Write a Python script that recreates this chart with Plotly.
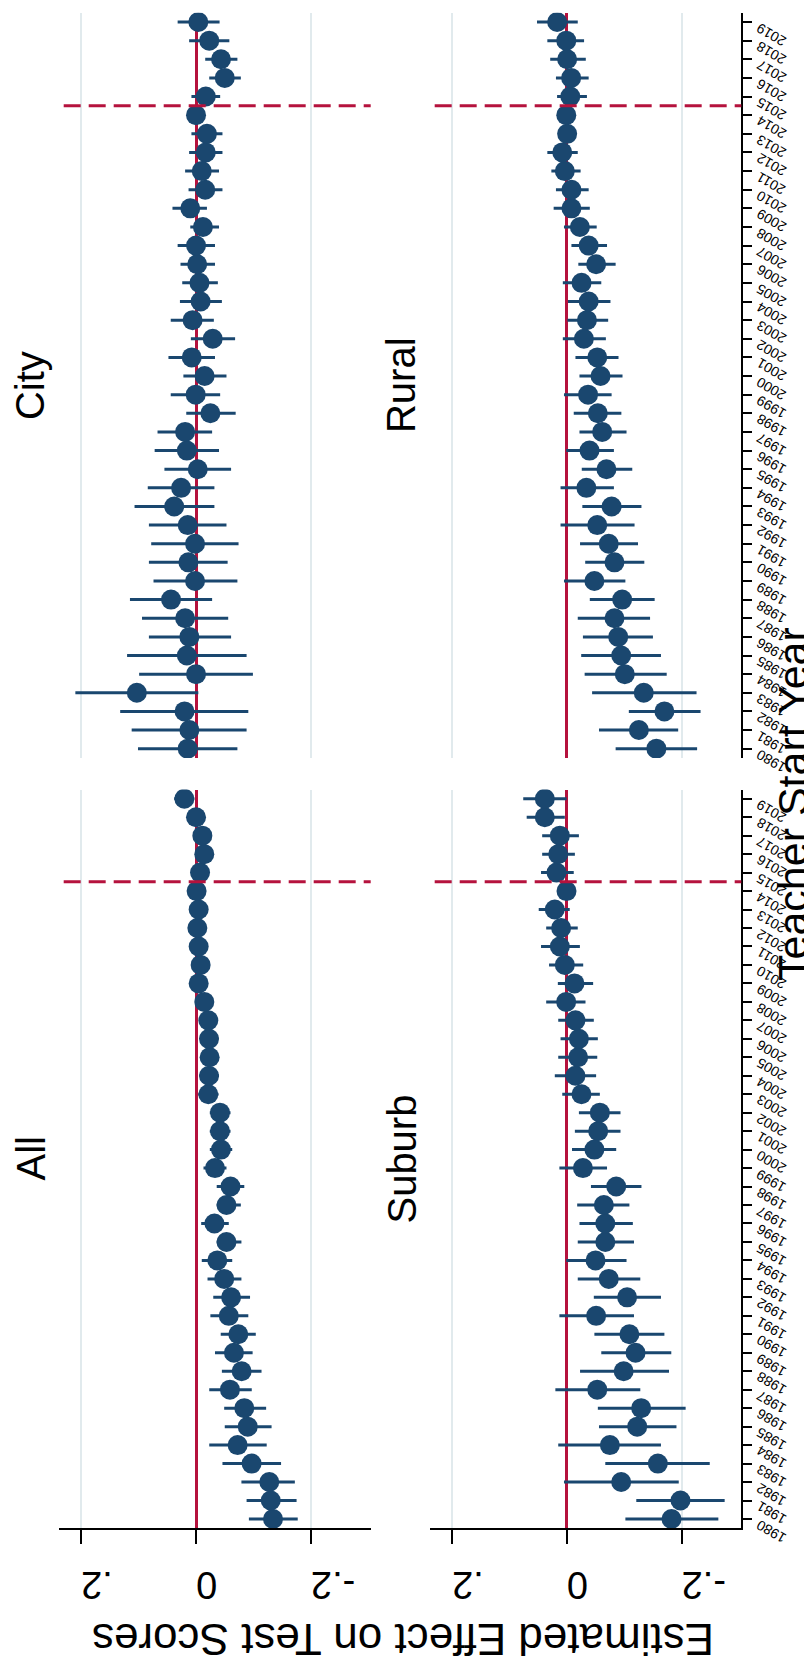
import plotly.graph_objects as go

# ---------------- data ----------------
years = list(range(1980, 2020))
year_labels = [str(y) for y in years]
effect_ticks = [-0.2, 0.0, 0.2]
effect_labels = ["-.2", "0", ".2"]
policy_year = 2014.5
panel_titles = ["City", "Rural", "All", "Suburb"]

city_est = [0.0145, 0.0116, 0.020, 0.103, 0.0, 0.016, 0.0116, 0.019, 0.0435, 0.0017,
            0.0133, 0.0017, 0.0145, 0.038, 0.026, -0.003, 0.016, 0.019, -0.025, 0.0006,
            -0.015, 0.0075, -0.029, 0.006, -0.008, -0.006, -0.002, 0.0, -0.012, 0.010,
            -0.016, -0.010, -0.017, -0.019, 0.0, -0.017, -0.050, -0.0435, -0.023, -0.004]
city_lo = [-0.072, -0.088, -0.091, -0.004, -0.099, -0.088, -0.061, -0.056, -0.028, -0.072,
           -0.055, -0.074, -0.053, -0.032, -0.032, -0.061, -0.040, -0.028, -0.069, -0.042,
           -0.053, -0.033, -0.068, -0.031, -0.045, -0.038, -0.033, -0.033, -0.040, -0.019,
           -0.046, -0.040, -0.046, -0.046, -0.009, -0.042, -0.078, -0.072, -0.058, -0.041]
city_hi = [0.101, 0.112, 0.132, 0.210, 0.099, 0.120, 0.082, 0.094, 0.115, 0.074,
           0.082, 0.078, 0.082, 0.107, 0.084, 0.055, 0.072, 0.067, 0.017, 0.044,
           0.022, 0.048, 0.009, 0.044, 0.028, 0.024, 0.027, 0.032, 0.010, 0.041,
           0.013, 0.019, 0.012, 0.008, 0.009, 0.008, -0.023, -0.016, 0.012, 0.032]

rural_est = [-0.156, -0.1255, -0.170, -0.134, -0.101, -0.0947, -0.0895, -0.083, -0.0964, -0.048,
             -0.083, -0.073, -0.053, -0.078, -0.034, -0.069, -0.0395, -0.0616, -0.054, -0.037,
             -0.0587, -0.053, -0.0297, -0.035, -0.038, -0.0256, -0.051, -0.038, -0.0227, -0.008,
             -0.008, 0.0035, 0.008, -0.0005, 0.001, -0.006, -0.0075, -0.0005, 0.001, 0.0169]
rural_lo = [-0.227, -0.194, -0.233, -0.226, -0.174, -0.164, -0.150, -0.145, -0.153, -0.102,
            -0.135, -0.124, -0.118, -0.130, -0.082, -0.114, -0.082, -0.104, -0.095, -0.078,
            -0.097, -0.090, -0.068, -0.072, -0.076, -0.060, -0.085, -0.070, -0.052, -0.040,
            -0.038, -0.024, -0.019, -0.012, -0.008, -0.035, -0.038, -0.033, -0.030, -0.019]
rural_hi = [-0.085, -0.056, -0.108, -0.044, -0.031, -0.025, -0.028, -0.019, -0.040, 0.005,
            -0.032, -0.023, 0.011, -0.027, 0.011, -0.026, 0.001, -0.022, -0.012, 0.005,
            -0.022, -0.015, 0.007, -0.001, -0.002, 0.007, -0.020, -0.008, 0.005, 0.023,
            0.019, 0.027, 0.034, 0.012, 0.010, 0.017, 0.019, 0.029, 0.034, 0.052]

all_est = [-0.134, -0.130, -0.1275, -0.0967, -0.0724, -0.090, -0.084, -0.059, -0.0794, -0.066,
           -0.0736, -0.057, -0.061, -0.049, -0.037, -0.053, -0.032, -0.053, -0.060, -0.033,
           -0.0434, -0.0417, -0.0417, -0.0214, -0.0226, -0.0237, -0.0226, -0.0214, -0.0144, -0.0046,
           -0.008, -0.0046, -0.0023, -0.0046, -0.001, -0.007, -0.0144, -0.011, 0.0, 0.0203]
all_lo = [-0.177, -0.175, -0.172, -0.148, -0.123, -0.1315, -0.122, -0.097, -0.114, -0.0985,
          -0.104, -0.091, -0.094, -0.079, -0.063, -0.079, -0.057, -0.078, -0.084, -0.053,
          -0.063, -0.060, -0.060, -0.039, -0.040, -0.040, -0.039, -0.038, -0.030, -0.020,
          -0.023, -0.020, -0.018, -0.020, -0.014, -0.022, -0.029, -0.026, -0.016, 0.003]
all_hi = [-0.092, -0.088, -0.079, -0.046, -0.023, -0.050, -0.049, -0.023, -0.045, -0.033,
          -0.043, -0.025, -0.030, -0.020, -0.010, -0.036, -0.009, -0.036, -0.036, -0.013,
          -0.024, -0.024, -0.024, -0.004, -0.006, -0.008, -0.007, -0.006, 0.001, 0.011,
          0.007, 0.011, 0.013, 0.011, 0.012, 0.008, 0.000, 0.004, 0.016, 0.038]

suburb_est = [-0.1824, -0.198, -0.0947, -0.1586, -0.075, -0.1226, -0.1295, -0.053, -0.099, -0.1197,
              -0.109, -0.051, -0.105, -0.073, -0.050, -0.067, -0.067, -0.0645, -0.086, -0.028,
              -0.048, -0.0546, -0.0575, -0.0255, -0.015, -0.0197, -0.021, -0.015, 0.0012, -0.0133,
              0.0035, 0.0122, 0.010, 0.021, 0.0006, 0.018, 0.015, 0.0122, 0.0384, 0.0384]
suburb_lo = [-0.264, -0.275, -0.195, -0.249, -0.164, -0.191, -0.207, -0.128, -0.178, -0.182,
             -0.170, -0.117, -0.164, -0.128, -0.104, -0.117, -0.115, -0.109, -0.130, -0.070,
             -0.086, -0.0935, -0.0935, -0.0575, -0.051, -0.053, -0.054, -0.047, -0.0325, -0.0458,
             -0.0285, -0.0227, -0.019, -0.005, -0.010, -0.012, -0.014, -0.021, 0.0035, 0.0006]
suburb_hi = [-0.102, -0.121, 0.005, -0.067, 0.015, -0.056, -0.054, 0.020, -0.023, -0.060,
             -0.048, 0.013, -0.047, -0.019, 0.001, -0.019, -0.022, -0.018, -0.042, 0.013,
             -0.009, -0.014, -0.021, 0.008, 0.021, 0.015, 0.011, 0.015, 0.036, 0.0157,
             0.031, 0.045, 0.036, 0.049, 0.010, 0.045, 0.043, 0.043, 0.070, 0.076]

# ---------------- styling / layout ----------------
W, H = 812, 1662
NAVY = "#1a476f"
RED = "#b5123d"
GRID = "#e1eaed"
FONT = "Liberation Sans, Arial, sans-serif"


def fx(p):
    return p / W


def fy(p):
    return 1 - p / H


col_dom = {"L": [fx(50.7), fx(362.7)], "R": [fx(421.7), fx(733.3)]}
row_dom = {"T": [fy(750.0), fy(4.7)], "B": [fy(1520.2), fy(781.5)]}

panels = [
    (panel_titles[0], "L", "T", city_est, city_lo, city_hi),
    (panel_titles[1], "R", "T", rural_est, rural_lo, rural_hi),
    (panel_titles[2], "L", "B", all_est, all_lo, all_hi),
    (panel_titles[3], "R", "B", suburb_est, suburb_lo, suburb_hi),
]

fig = go.Figure()
layout = dict(
    width=W, height=H, margin=dict(l=0, r=0, t=0, b=0),
    paper_bgcolor="white", plot_bgcolor="white", showlegend=False,
    font=dict(family=FONT, color="black"),
)
shapes = []
annotations = []

for i, (title, col, row, est, lo, hi) in enumerate(panels, start=1):
    sfx = "" if i == 1 else str(i)
    plus = [h - e for h, e in zip(hi, est)]
    minus = [e - l for e, l in zip(est, lo)]
    fig.add_trace(go.Scatter(
        x=est, y=years, mode="markers",
        xaxis="x" + sfx, yaxis="y" + sfx,
        marker=dict(color=NAVY, size=20, line=dict(width=0)),
        error_x=dict(type="data", symmetric=False, array=plus, arrayminus=minus,
                     color=NAVY, thickness=3, width=0),
        hoverinfo="skip",
    ))
    bottom = row == "B"
    right = col == "R"
    layout["xaxis" + sfx] = dict(
        domain=col_dom[col], anchor="y" + sfx, range=[0.239, -0.304],
        tickmode="array", tickvals=effect_ticks, ticktext=effect_labels,
        showgrid=True, gridcolor=GRID, gridwidth=1.5,
        zeroline=True, zerolinecolor=RED, zerolinewidth=3,
        showline=bottom, linecolor="black", linewidth=1.5,
        ticks="outside" if bottom else "", ticklen=14, tickwidth=1.5, tickcolor="black",
        showticklabels=bottom, tickangle=180, ticklabelstandoff=20,
        tickfont=dict(size=38, family=FONT),
        fixedrange=True,
    )
    layout["yaxis" + sfx] = dict(
        domain=row_dom[row], anchor="x" + sfx, range=[1979.5, 2019.5], side="right",
        tickmode="array", tickvals=years, ticktext=year_labels,
        showgrid=False, zeroline=False,
        showline=right, linecolor="black", linewidth=1.5,
        ticks="outside" if right else "", ticklen=9, tickwidth=1.5, tickcolor="black",
        showticklabels=False,
        fixedrange=True,
    )
    shapes.append(dict(type="line", xref="x" + sfx + " domain", yref="y" + sfx,
                       x0=0.016, x1=1, y0=policy_year, y1=policy_year,
                       line=dict(color=RED, width=3, dash="17px,8px"), layer="above"))
    xd = col_dom[col]
    yd = row_dom[row]
    annotations.append(dict(text=title, xref="paper", yref="paper",
                            x=xd[0] - fx(28), y=(yd[0] + yd[1]) / 2,
                            showarrow=False, textangle=-90,
                            font=dict(size=40, family=FONT, color="black"),
                            xanchor="center", yanchor="middle"))
    # slanted year tick labels on the outer (right) axis
    if right:
        for yv, lab in zip(years, year_labels):
            annotations.append(dict(text=lab, xref="x" + sfx + " domain", yref="y" + sfx,
                                    x=1, y=yv, xshift=10, yshift=5,
                                    showarrow=False, textangle=-150,
                                    font=dict(size=14, family=FONT, color="black"),
                                    xanchor="left", yanchor="top"))

annotations.append(dict(text="Estimated Effect on Test Scores", xref="paper", yref="paper",
                        x=fx(395), y=fy(1632), showarrow=False, textangle=180,
                        font=dict(size=44, family=FONT, color="black"),
                        xanchor="center", yanchor="middle"))
annotations.append(dict(text="Teacher Start Year", xref="paper", yref="paper",
                        x=fx(785), y=fy(796), showarrow=False, textangle=-90,
                        font=dict(size=43, family=FONT, color="black"),
                        xanchor="center", yanchor="middle"))

layout["shapes"] = shapes
layout["annotations"] = annotations
fig.update_layout(**layout)
fig.write_html("out.html")
